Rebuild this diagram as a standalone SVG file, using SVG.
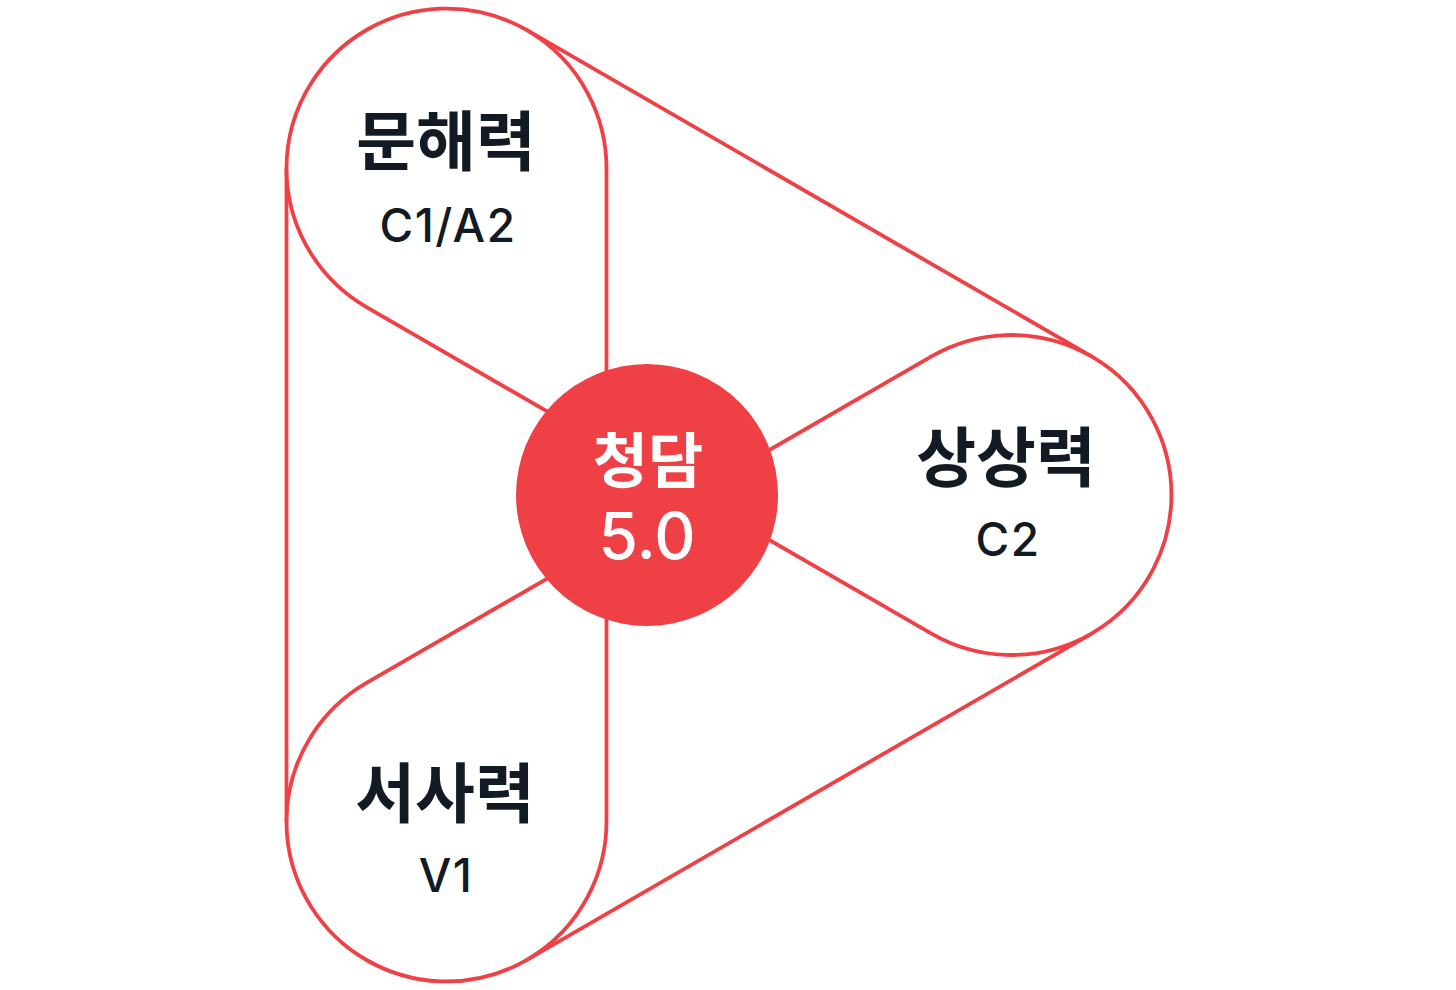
<svg xmlns="http://www.w3.org/2000/svg" width="1456" height="990" viewBox="0 0 1456 990">
<style>
.ln{fill:none;stroke:#EF4046;stroke-width:3.8;stroke-linejoin:round}
.pet{fill:#FFFFFF;stroke:#EF4046;stroke-width:3.8;stroke-linejoin:round}
.hd{font-family:"Noto Sans CJK KR","Noto Sans",sans-serif;font-weight:700;font-size:65px;fill:#121A23;text-anchor:middle}
.sb{font-family:Inter,"Noto Sans",sans-serif;font-weight:500;font-size:46px;letter-spacing:1.5px;fill:#121A23;text-anchor:middle}
.ct{font-family:"Noto Sans CJK KR","Noto Sans",sans-serif;font-weight:700;font-size:60px;fill:#FFFFFF;text-anchor:middle}
.cn{font-family:Inter,"Noto Sans",sans-serif;font-weight:500;font-size:64px;fill:#FFFFFF;text-anchor:middle}
</style>
<rect width="1456" height="990" fill="#FFFFFF"/>
<g id="connectors">
<line class="ln" x1="286.5" y1="168.5" x2="286.5" y2="821.5"/>
<line class="ln" x1="526.5" y1="29.9" x2="1091.5" y2="356.4"/>
<line class="ln" x1="526.5" y1="960.1" x2="1091.5" y2="633.6"/>
</g>
<g id="node-munhae">
<path class="pet" d="M606.5 445.7 L606.5 168.5 A160 160 0 1 0 366.5 307.1 Z"/>
<text class="hd" x="446" y="165">문해력</text>
<text class="sb" x="448" y="242">C1/A2</text>
</g>
<g id="node-sangsang">
<path class="pet" d="M691.5 495 L931.5 356.4 A160 160 0 1 1 931.5 633.6 Z"/>
<text class="hd" x="1006" y="481">상상력</text>
<text class="sb" x="1008" y="556">C2</text>
</g>
<g id="node-seosa">
<path class="pet" d="M606.5 544.3 L606.5 821.5 A160 160 0 1 1 366.5 682.9 Z"/>
<text class="hd" x="445" y="817">서사력</text>
<text class="sb" x="446" y="892">V1</text>
</g>
<g id="node-center">
<circle cx="647" cy="495" r="131" fill="#EF4046"/>
<text class="ct" x="648" y="483">청담</text>
<text class="cn" x="647" y="559">5.0</text>
</g>
</svg>
